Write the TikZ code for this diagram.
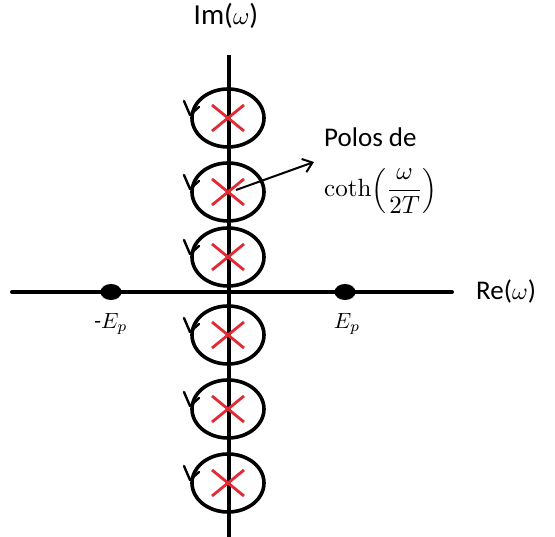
\documentclass[tikz,border=0pt]{standalone}
\usepackage{amsmath}
\usepackage[no-math]{fontspec}
\setmainfont{Carlito}
\usetikzlibrary{shapes.geometric,arrows.meta}
\definecolor{polered}{RGB}{226,42,52}
% math set at 10pt and enlarged, so it keeps its shape at large sizes
\newcommand{\mathat}[2]{\scalebox{#1}{\fontsize{10}{12}\selectfont$#2$}}
\begin{document}
\begin{tikzpicture}[x=1pt,y=-1pt,
  axis/.style={line width=4pt,line cap=round},
  loop/.style={draw,line width=3.6pt,ellipse,minimum width=72pt,minimum height=58pt,inner sep=0pt},
  pole/.style={draw=polered,line width=2.8pt},
  tip/.style={line width=2.4pt,line cap=round,line join=round},
  dot/.style={fill,ellipse,minimum width=21pt,minimum height=16pt,inner sep=0pt},
  elbl/.style={inner sep=0pt}]
\useasboundingbox (0,0) rectangle (555,537);
% axes
\coordinate (xl) at (12,292);
\coordinate (xr) at (452,292);
\coordinate (yt) at (229,55);
\coordinate (yb) at (229,540);
\draw[axis] (xl) -- (xr);
\draw[axis,line cap=butt] (yt) -- (yb);
\node[anchor=west,inner sep=0pt,font=\fontsize{27}{30}\selectfont] (re) at (476,292) {Re(\mathat{2.4}{\omega})};
\node[inner sep=0pt,font=\fontsize{29}{32}\selectfont] (im) at (226,16) {Im(\mathat{2.5}{\omega})};
% contours around the poles, each traversed counter-clockwise
\foreach \n/\cy in {a/118,b/192,c/257,d/335,e/409,f/483}{
  \node[loop] (c\n) at (228,\cy) {};
  \draw[pole] (212,\cy-13) -- (244,\cy+13);
  \draw[pole] (212,\cy+13) -- (244,\cy-13);
  \draw[tip] (184,\cy-17) -- (190,\cy-3) -- (199,\cy-11);
}
% real-axis points
\node[dot] (ml) at (111,292) {};
\node[dot] (mr) at (345,292) {};
\node[elbl] (lml) at (111,324) {\mathat{2.2}{\text{-}E_p}};
\node[elbl] (lmr) at (347,324) {\mathat{2.2}{E_p}};
% annotation
\node[anchor=west,inner sep=0pt,font=\fontsize{27}{30}\selectfont] (pol) at (324,137) {Polos de};
\node[anchor=west,inner sep=0pt] (coth) at (324,191)
  {\mathat{2.5}{\coth\!\left(\dfrac{\omega}{2T}\right)}};
\coordinate (as) at (236,190);
\coordinate (ae) at (314,162);
\draw[line width=2pt,-{Straight Barb[length=9pt,width=14pt]}] (as) -- (ae);
\end{tikzpicture}
\end{document}
